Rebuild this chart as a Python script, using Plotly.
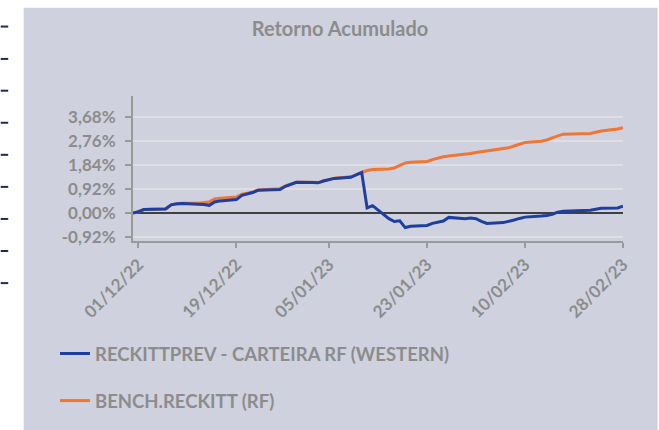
import plotly.graph_objects as go

dates = ["2022-11-30", "2022-12-01", "2022-12-02", "2022-12-05", "2022-12-06", "2022-12-07",
         "2022-12-08", "2022-12-09", "2022-12-12", "2022-12-13", "2022-12-14", "2022-12-15",
         "2022-12-16", "2022-12-19", "2022-12-20", "2022-12-21", "2022-12-22", "2022-12-23",
         "2022-12-26", "2022-12-27", "2022-12-28", "2022-12-29", "2022-12-30", "2023-01-02",
         "2023-01-03", "2023-01-04", "2023-01-05", "2023-01-06", "2023-01-09", "2023-01-10",
         "2023-01-11", "2023-01-12", "2023-01-13", "2023-01-16", "2023-01-17", "2023-01-18",
         "2023-01-19", "2023-01-20", "2023-01-23", "2023-01-24", "2023-01-25", "2023-01-26",
         "2023-01-27", "2023-01-30", "2023-01-31", "2023-02-01", "2023-02-02", "2023-02-03",
         "2023-02-06", "2023-02-07", "2023-02-08", "2023-02-09", "2023-02-10", "2023-02-13",
         "2023-02-14", "2023-02-15", "2023-02-16", "2023-02-17", "2023-02-22", "2023-02-23",
         "2023-02-24", "2023-02-27", "2023-02-28"]

carteira = [0.00, 0.05, 0.13, 0.14, 0.15, 0.31,
            0.35, 0.36, 0.35, 0.32, 0.29, 0.42,
            0.46, 0.51, 0.67, 0.72, 0.78, 0.87,
            0.91, 0.90, 1.02, 1.10, 1.17, 1.16,
            1.15, 1.22, 1.27, 1.32, 1.36, 1.45,
            1.55, 0.19, 0.28, -0.22, -0.33, -0.30,
            -0.56, -0.51, -0.48, -0.40, -0.35, -0.31,
            -0.17, -0.22, -0.19, -0.22, -0.32, -0.40,
            -0.37, -0.33, -0.27, -0.21, -0.16, -0.12,
            -0.10, -0.05, 0.03, 0.06, 0.10, 0.14,
            0.18, 0.19, 0.26]

bench = [0.00, 0.05, 0.13, 0.14, 0.16, 0.31,
         0.35, 0.37, 0.37, 0.40, 0.42, 0.53,
         0.56, 0.61, 0.72, 0.75, 0.80, 0.88,
         0.92, 0.92, 1.03, 1.11, 1.17, 1.17,
         1.16, 1.23, 1.28, 1.33, 1.38, 1.46,
         1.56, 1.62, 1.66, 1.68, 1.72, 1.81,
         1.91, 1.94, 1.97, 2.04, 2.10, 2.15,
         2.18, 2.24, 2.27, 2.31, 2.34, 2.38,
         2.45, 2.49, 2.56, 2.63, 2.69, 2.74,
         2.79, 2.87, 2.95, 3.01, 3.04, 3.08,
         3.13, 3.21, 3.26]

y_tick_vals = [-0.92, 0.00, 0.92, 1.84, 2.76, 3.68]
y_tick_text = ["-0,92%", "0,00%", "0,92%", "1,84%", "2,76%", "3,68%"]
x_tick_vals = ["2022-12-01", "2022-12-19", "2023-01-05", "2023-01-23", "2023-02-10", "2023-02-28"]
x_tick_text = ["01/12/22", "19/12/22", "05/01/23", "23/01/23", "10/02/23", "28/02/23"]

series_names = ["RECKITTPREV - CARTEIRA RF (WESTERN)", "BENCH.RECKITT (RF)"]
title_text = "Retorno Acumulado"

W, H = 659, 430
L, R, T, B = 132.5, 623.3, 96.0, 240.7
PW, PH = R - L, B - T

def px(x):
    return (x - L) / PW

def py(y):
    return (B - y) / PH

BG = "rgb(207,209,222)"
GRAY = "#8C8C8C"
FONT = "Lato"
BLUE = "#1F3FA0"
ORANGE = "#F07634"

fig = go.Figure()
fig.add_trace(go.Scatter(x=dates, y=bench, mode="lines", name=series_names[1],
                         line=dict(color=ORANGE, width=3), legendrank=2, legendgroup="b"))
fig.add_trace(go.Scatter(x=dates, y=carteira, mode="lines", name=series_names[0],
                         line=dict(color=BLUE, width=3), legendrank=1, legendgroup="a"))

shapes = [dict(type="rect", xref="paper", yref="paper", x0=px(23), x1=px(658), y0=py(431), y1=py(8),
               fillcolor=BG, line=dict(width=0), layer="below")]
for yy in [26.7, 59, 90.7, 122.7, 154.7, 186.7, 218.7, 250.7, 282.7]:
    shapes.append(dict(type="line", xref="paper", yref="paper", x0=px(0), x1=px(7.5), y0=py(yy), y1=py(yy),
                       line=dict(color="#1F2A5C", width=2)))

fig.update_layout(
    width=W, height=H,
    margin=dict(l=L, r=W - R, t=T, b=H - B, pad=0, autoexpand=False),
    paper_bgcolor="white",
    plot_bgcolor="rgba(0,0,0,0)",
    font=dict(family=FONT, color=GRAY, size=16),
    title=dict(text="<b>" + title_text + "</b>", xref="container", yref="container",
               x=340 / W, y=1 - 29 / H, xanchor="center", yanchor="middle",
               font=dict(family=FONT, size=20, color=GRAY)),
    shapes=shapes,
    showlegend=True,
    legend=dict(xref="container", yref="container", x=55 / W, y=1 - 335 / H,
                xanchor="left", yanchor="top", bgcolor="rgba(0,0,0,0)",
                font=dict(family=FONT, size=18.5, color=GRAY, weight="bold"),
                tracegroupgap=20, traceorder="grouped"),
    xaxis=dict(type="date", range=["2022-11-30", "2023-02-28"],
               tickvals=x_tick_vals, ticktext=x_tick_text, tickangle=-45,
               showgrid=False, zeroline=False,
               showline=True, linecolor="#9A9A9A", linewidth=2,
               ticks="outside", ticklen=5, tickwidth=2, tickcolor="#9A9A9A",
               tickfont=dict(family=FONT, size=17, color=GRAY, weight="bold")),
    yaxis=dict(range=[-1.073, 4.47], tickvals=y_tick_vals, ticktext=y_tick_text,
               showgrid=True, gridcolor="#DEDEE4", gridwidth=2,
               zeroline=True, zerolinecolor="#404040", zerolinewidth=2,
               showline=True, linecolor="#9A9A9A", linewidth=2,
               ticks="outside", ticklen=6, tickwidth=2, tickcolor="#9A9A9A",
               ticklabelstandoff=6,
               tickfont=dict(family=FONT, size=17, color=GRAY, weight="bold")),
)

fig.write_html("out.html", config={"displayModeBar": False},
               post_script="document.body.style.margin='0';")
